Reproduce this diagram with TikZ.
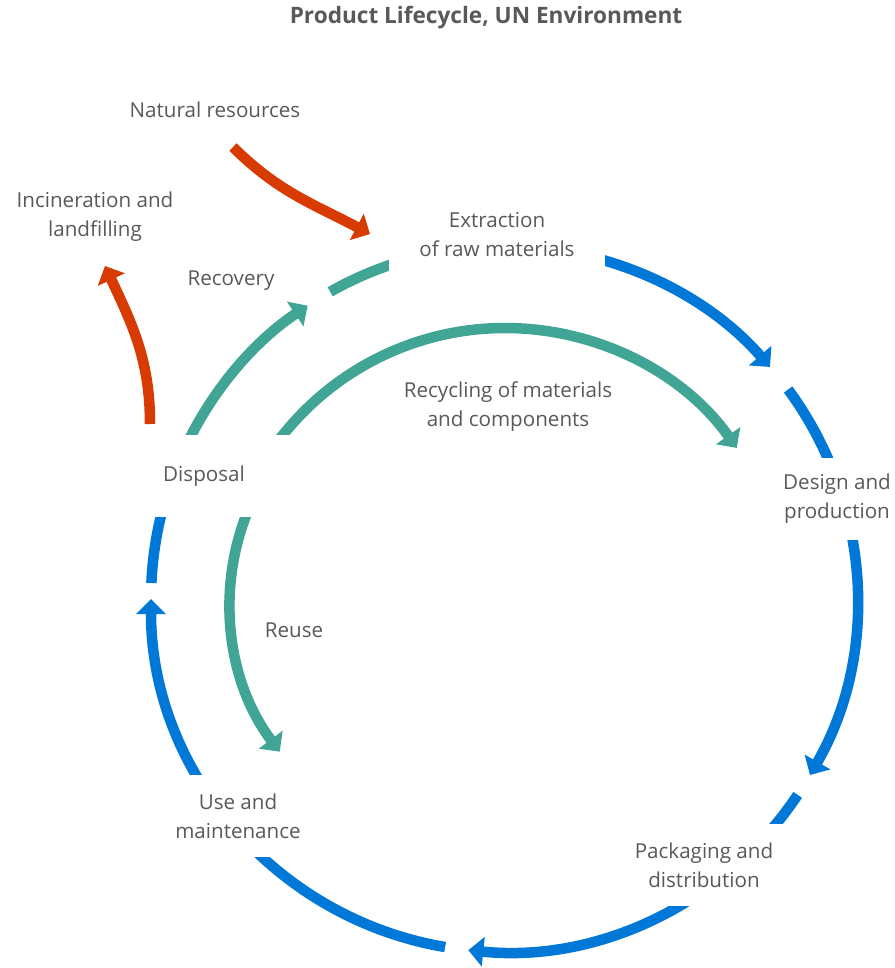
\documentclass[tikz,border=0pt]{standalone}
\usepackage{fontspec}
\setmainfont{Open Sans}
\usetikzlibrary{arrows.meta,backgrounds}
\definecolor{cblue}{HTML}{0078D7}
\definecolor{cteal}{HTML}{41A595}
\definecolor{corange}{HTML}{D83B01}
\definecolor{ctext}{HTML}{595959}
\begin{document}
\begin{tikzpicture}[x=1pt,y=1pt,
  lbl/.style={text=ctext, font=\fontsize{20.6}{29}\selectfont, align=center, inner sep=0pt},
  stage/.style={lbl, fill=white, minimum width=216pt, minimum height=82pt},
  flow/.style={line width=10.5pt, -{Triangle[length=15pt,width=29pt]}},
  plainflow/.style={line width=10.5pt},
]
\useasboundingbox (0,0) rectangle (894,-968);
% labels
\node[lbl, font=\bfseries\fontsize{22.6}{26}\selectfont] (title) at (486,-18) {Product Lifecycle, UN Environment};
\node[stage] (extr) at (497,-235) {Extraction\\of raw materials};
\node[stage] (design) at (837,-499) {Design and\\production};
\node[stage] (pack) at (704,-865) {Packaging and\\distribution};
\node[stage] (use) at (238,-816) {Use and\\maintenance};
\node[stage] (disp) at (204,-476) {Disposal};
\node[lbl] (natres) at (215,-110) {Natural resources};
\node[lbl] (incin) at (95,-217) {Incineration and\\landfilling};
\node[lbl] (recov) at (231,-281) {Recovery};
\node[lbl] (recyc) at (508,-407) {Recycling of materials\\and components};
\node[lbl] (reuse) at (294,-630) {Reuse};
% geometry
\coordinate (ctr) at (504,-599);
\coordinate (rcc) at (505,-612);
\coordinate (ruc) at (477,-603);
\coordinate (nrs) at (233,-147);
\coordinate (nre) at (370,-234);
\coordinate (ins) at (150,-424);
\coordinate (ine) at (105,-266);
\begin{pgfonlayer}{background}
\fill[white] (0,0) rectangle (894,-968);
% main cycle
\draw[flow,cblue] ([shift={(85:353)}]ctr) arc[start angle=85,end angle=41.1,radius=353];
\draw[flow,cblue] ([shift={(36.4:353)}]ctr) arc[start angle=36.4,end angle=-29.9,radius=353];
\draw[flow,cblue] ([shift={(-33.7:353)}]ctr) arc[start angle=-33.7,end angle=-95.8,radius=353];
\draw[flow,cblue] ([shift={(-99.6:353)}]ctr) arc[start angle=-99.6,end angle=-180,radius=353];
\draw[plainflow,cblue] ([shift={(177.4:353)}]ctr) arc[start angle=177.4,end angle=165,radius=353];
% recovery
\draw[flow,cteal] ([shift={(158:353)}]ctr) arc[start angle=158,end angle=123.8,radius=353];
\draw[plainflow,cteal] ([shift={(119.5:353)}]ctr) arc[start angle=119.5,end angle=100,radius=353];
% recycling
\draw[flow,cteal] ([shift={(150:284)}]rcc) arc[start angle=150,end angle=35.3,radius=284];
% reuse
\draw[flow,cteal] ([shift={(155:247)}]ruc) arc[start angle=155,end angle=217,radius=247];
% orange
\draw[flow,corange] (nrs) to[out=-45,in=152] (nre);
\draw[flow,corange] (ins) to[out=90,in=-65] (ine);
\end{pgfonlayer}
\end{tikzpicture}
\end{document}
